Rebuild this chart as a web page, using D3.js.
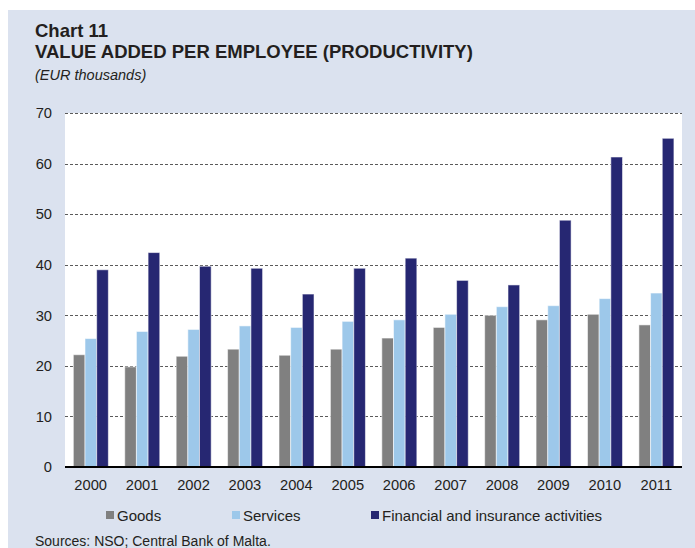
<!DOCTYPE html>
<html>
<head>
<meta charset="utf-8">
<script src="https://cdn.jsdelivr.net/npm/d3@7"></script>
<style>
  html, body { margin: 0; padding: 0; background: #ffffff; }
  svg { display: block; font-family: "Liberation Sans", Arial, sans-serif; }
</style>
</head>
<body>
<svg id="chart" width="695" height="548"></svg>
<script>
// Value added per employee, EUR thousands
const years = ["2000","2001","2002","2003","2004","2005","2006","2007","2008","2009","2010","2011"];
const goods = [22.2, 19.8, 21.9, 23.3, 22.1, 23.3, 25.5, 27.6, 30.0, 29.1, 30.2, 28.1];
const services = [25.4, 26.8, 27.2, 27.9, 27.6, 28.8, 29.1, 30.2, 31.7, 31.9, 33.3, 34.4];
const financial = [39.0, 42.4, 39.7, 39.3, 34.2, 39.3, 41.3, 36.9, 36.0, 48.8, 61.3, 65.0];
const seriesNames = ["Goods", "Services", "Financial and insurance activities"];
const seriesColors = ["#808080", "#9dc8ea", "#262772"];
const yTicks = [0, 10, 20, 30, 40, 50, 60, 70];

const svg = d3.select("#chart");
const W = 695, H = 548;
const ink = "#231f20";

// panel background
svg.append("rect").attr("x", 8).attr("y", 10).attr("width", W - 8).attr("height", H - 10)
  .attr("fill", "#dbe2ef");

// titles
svg.append("text").attr("x", 35).attr("y", 37).attr("font-size", 18.5).attr("font-weight", "bold")
  .attr("fill", ink).text("Chart 11");
svg.append("text").attr("x", 35).attr("y", 57.5).attr("font-size", 18.5).attr("font-weight", "bold")
  .attr("fill", ink).text("VALUE ADDED PER EMPLOYEE (PRODUCTIVITY)");
svg.append("text").attr("x", 35).attr("y", 80).attr("font-size", 14.5).attr("font-style", "italic")
  .attr("fill", ink).text("(EUR thousands)");

const plot = { left: 65, right: 682, top: 113, bottom: 467 };

svg.append("rect").attr("x", plot.left).attr("y", plot.top)
  .attr("width", plot.right - plot.left).attr("height", plot.bottom - plot.top)
  .attr("fill", "#ffffff");

const y = d3.scaleLinear().domain([0, 70]).range([plot.bottom, plot.top]);
const x0 = d3.scaleBand().domain(years).range([plot.left, plot.right]).padding(0);
const bw = x0.bandwidth();
const x1 = d3.scaleBand().domain(seriesNames).range([bw * 0.162, bw * 0.843]).padding(0);

// gridlines
svg.append("g").selectAll("line").data(yTicks.filter(t => t > 0)).join("line")
  .attr("x1", plot.left).attr("x2", plot.right)
  .attr("y1", d => Math.round(y(d)) + 0.5).attr("y2", d => Math.round(y(d)) + 0.5)
  .attr("stroke", "#5a5a5a").attr("stroke-width", 1).attr("stroke-dasharray", "3,2");

// y axis labels
const yAxis = d3.axisLeft(y).tickValues(yTicks).tickSize(0).tickPadding(0);
const gy = svg.append("g").attr("transform", `translate(${plot.left - 13},0)`).call(yAxis);
gy.select(".domain").remove();
gy.selectAll("text").attr("font-size", 14.7).attr("fill", ink)
  .attr("font-family", "Liberation Sans, Arial, sans-serif");

// bars
const data = years.map((yr, i) => ({ year: yr, vals: [goods[i], services[i], financial[i]] }));
const groups = svg.append("g").selectAll("g").data(data).join("g")
  .attr("transform", d => `translate(${x0(d.year)},0)`);
groups.selectAll("rect").data(d => d.vals.map((v, k) => ({ v, k }))).join("rect")
  .attr("x", d => x1(seriesNames[d.k]))
  .attr("y", d => y(d.v))
  .attr("width", x1.bandwidth())
  .attr("height", d => y(0) - y(d.v))
  .attr("fill", d => seriesColors[d.k])
  .attr("stroke", "rgba(255,255,255,0.55)")
  .attr("stroke-width", 1);

// x axis
const xAxis = d3.axisBottom(x0).tickSize(0).tickPadding(0);
const gx = svg.append("g").attr("transform", `translate(0,${plot.bottom})`).call(xAxis);
gx.select(".domain").remove();
gx.selectAll("text").attr("font-size", 14.7).attr("fill", ink).attr("dy", null)
  .attr("y", 23).attr("font-family", "Liberation Sans, Arial, sans-serif");
svg.append("line").attr("x1", plot.left).attr("x2", plot.right)
  .attr("y1", plot.bottom).attr("y2", plot.bottom)
  .attr("stroke", "#000000").attr("stroke-width", 2.2);

// legend
const legendX = [106, 232, 371];
const lg = svg.append("g").selectAll("g").data(seriesNames).join("g")
  .attr("transform", (d, i) => `translate(${legendX[i]},511)`);
lg.append("rect").attr("width", 8).attr("height", 8).attr("fill", (d, i) => seriesColors[i]);
lg.append("text").attr("x", 11).attr("y", 9.5).attr("font-size", 15).attr("fill", ink).text(d => d);

// source
svg.append("text").attr("x", 35).attr("y", 545.5).attr("font-size", 14).attr("fill", ink)
  .text("Sources: NSO; Central Bank of Malta.");
</script>
</body>
</html>
